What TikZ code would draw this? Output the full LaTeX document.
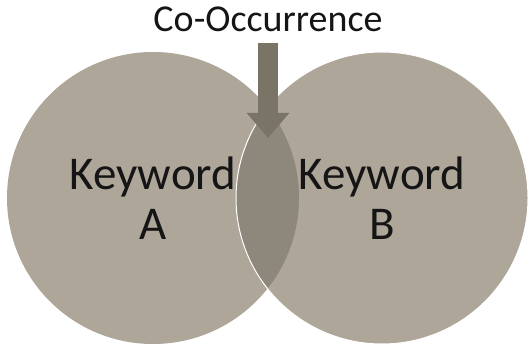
\documentclass[tikz,border=0pt]{standalone}
\usepackage{fontspec}
\setmainfont{Carlito}
\usetikzlibrary{positioning,arrows.meta}
\definecolor{setgray}{HTML}{ADA699}
\definecolor{lensgray}{HTML}{8E887C}
\definecolor{arrgray}{HTML}{7A7467}
\definecolor{txtblack}{HTML}{151515}

\begin{document}
\begin{tikzpicture}[
    x=1pt, y=1pt,
    every node/.style={font=\fontsize{47}{50}\selectfont, text=txtblack},
    kwset/.style={
        circle, fill=setgray, minimum size=292pt, inner sep=0pt,
        align=center
    },
    title/.style={font=\fontsize{38}{40}\selectfont, text=txtblack},
    arr/.style={-{Triangle[length=25pt, width=41pt]}, line width=20pt, color=#1},
]
\useasboundingbox (0,0) rectangle (529,348);

% === Keyword sets ===
\node[kwset] (kwA) at (153,150) {Keyword\\A};
\node[kwset] (kwB) at (382,150) {Keyword\\B};

% Overlap region
\begin{scope}
    \clip (kwA.center) circle[radius=146];
    \fill[lensgray] (kwB.center) circle[radius=146];
\end{scope}
\draw[white, line width=1pt] (kwB.center) circle[radius=146];

% === Co-occurrence label and arrow ===
\node[title, anchor=base] (coocc) at (268,316) {Co-Occurrence};
\coordinate (meet) at (268,210);
\draw[arr=arrgray, shorten <=6.7pt] (coocc.south) -- (meet);

\end{tikzpicture}
\end{document}
